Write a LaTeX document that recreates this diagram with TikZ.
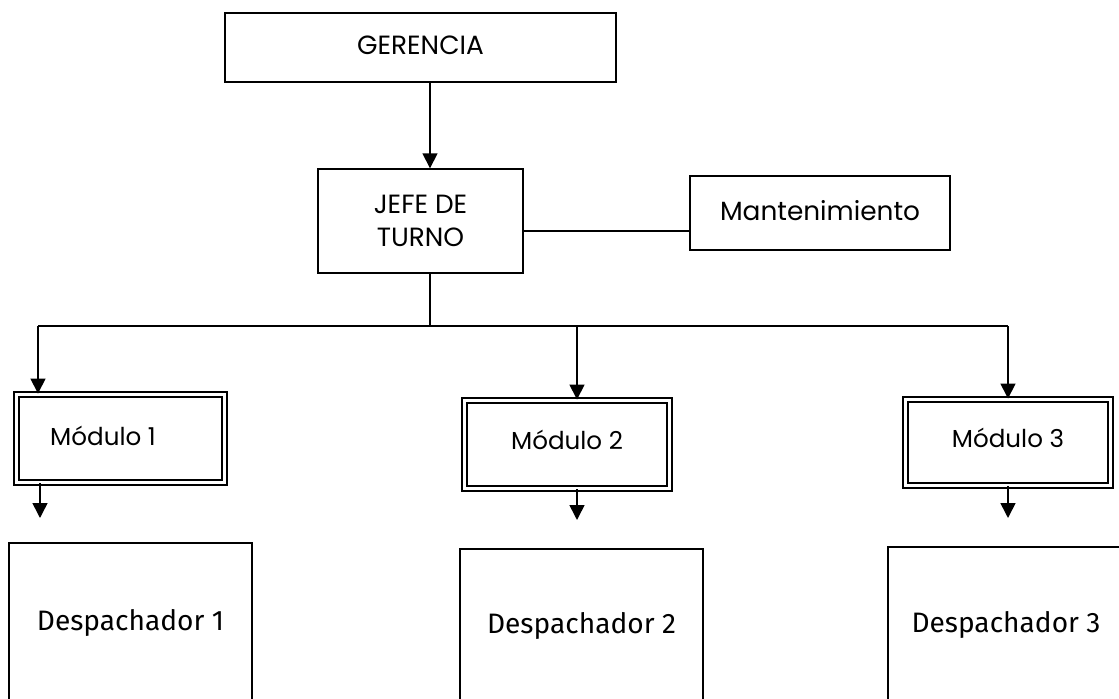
\documentclass[tikz,border=0pt]{standalone}
\usepackage{fontspec}
\setmainfont{Poppins}
\newfontfamily\despfont{Fira Sans}
\usetikzlibrary{positioning, arrows.meta}

\tikzset{
  caja/.style={draw, line width=0.8pt, inner sep=0pt, align=center,
    font=\fontsize{15}{19}\selectfont},
  modulo/.style={caja, double, line width=1.1pt, double distance=1.6pt,
    minimum width=4.15cm, minimum height=1.76cm, font=\fontsize{14}{17}\selectfont},
  despacho/.style={caja, font=\despfont\fontsize{16}{19}\selectfont},
  flecha/.style={line width=0.9pt, -{Triangle[width=8.5pt,length=8.5pt]}},
  linea/.style={line width=0.9pt}
}

\begin{document}
\begin{tikzpicture}[x=0.02cm, y=-0.02cm]
                \clip (0,0) rectangle (1119,699);

                \node[caja, minimum width=7.82cm, minimum height=1.38cm] (ger) at (420.5,47.5) {\raisebox{0.1cm}{GERENCIA}};
                \node[caja, minimum width=4.1cm, minimum height=2.08cm] (jefe) at (420.5,221) {JEFE DE\\TURNO};
                \node[caja, minimum width=5.2cm, minimum height=1.48cm] (mant) at (820,213) {\raisebox{0.12cm}{Mantenimiento}};

                \node[modulo] (m1) at (120.5,438.5) {\hspace*{-0.7cm}\raisebox{0.12cm}{Módulo 1}};
                \node[modulo, minimum width=4.1cm] (m2) at (567,444.5) {\raisebox{0.18cm}{Módulo 2}};
                \node[modulo, minimum width=4.1cm, minimum height=1.72cm] (m3) at (1008,442.5) {\raisebox{0.18cm}{Módulo 3}};

                \node[despacho, minimum width=4.86cm, minimum height=3.18cm] (d1) at (130.5,622.5) {Despachador 1};
                \node[despacho, minimum width=4.86cm, minimum height=3.06cm] (d2) at (581.5,625.5) {Despachador 2};
                \node[despacho, minimum width=4.72cm, minimum height=3.1cm] (d3) at (1006,624.5) {Despachador 3};

                % linea horizontal de los modulos
                \coordinate (jn) at (430,326);
                \coordinate (b1) at (38,326);
                \coordinate (b2) at (577,326);
                \coordinate (b3) at (1008,326);

                \draw[flecha] (ger.south -| jn) -- (jefe.north -| jn);
                \draw[linea] ([yshift=-0.2cm]jefe.east) -- ([yshift=-0.2cm]jefe.east -| mant.west);
                \draw[linea] (jefe.south -| jn) -- (jn);
                \draw[linea] (b1) -- (b3);

                \draw[flecha] (b1) -- (b1 |- m1.north);
                \draw[flecha] (b2) -- (b2 |- m2.north);
                \draw[flecha] (b3) -- (b3 |- m3.north);

                % flechas cortas bajo los modulos
                \coordinate (p1) at (40,518);
                \coordinate (p2) at (577,520);
                \coordinate (p3) at (1008,518);
                \draw[flecha] (m1.south -| p1) -- (p1);
                \draw[flecha] (m2.south -| p2) -- (p2);
                \draw[flecha] (m3.south -| p3) -- (p3);
            \end{tikzpicture}
\end{document}
